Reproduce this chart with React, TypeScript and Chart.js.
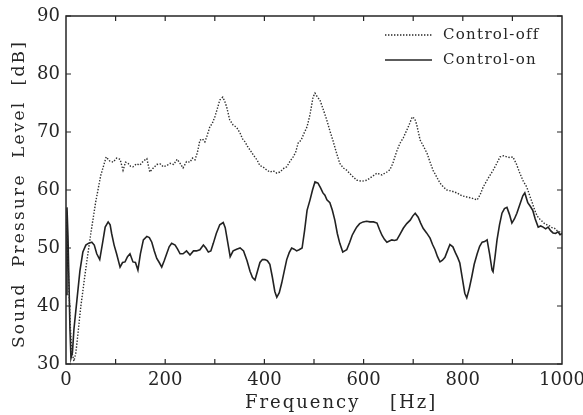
import { useEffect, useRef } from "react";
import { Chart, registerables } from "chart.js";

Chart.register(...registerables);

const offFreq = [0, 3, 6, 9, 12, 16, 20, 25, 30, 40, 50, 60, 70, 81, 88, 95, 102, 109, 115, 120, 125, 130, 135, 142, 149, 156, 163, 169, 176, 183, 190, 196, 203, 210, 217, 224, 230, 236, 243, 250, 255, 260, 265, 270, 275, 280, 285, 290, 295, 300, 305, 310, 316, 320, 324, 330, 337, 344, 351, 356, 361, 366, 371, 378, 385, 391, 397, 404, 411, 418, 425, 431, 435, 440, 445, 452, 458, 463, 468, 474, 480, 486, 492, 498, 502, 507, 512, 519, 526, 532, 538, 545, 552, 559, 566, 576, 586, 596, 607, 617, 627, 637, 647, 653, 659, 666, 673, 680, 687, 693, 698, 703, 707, 714, 721, 728, 734, 740, 747, 754, 761, 768, 778, 788, 798, 808, 818, 829, 835, 841, 851, 861, 868, 875, 882, 889, 895, 901, 908, 915, 922, 929, 935, 940, 945, 950, 955, 960, 965, 970, 975, 980, 985, 990, 995, 1000];
const offLevel = [55, 50, 43, 36, 32, 30.5, 32, 36, 40, 46.5, 52.5, 58, 62.5, 65.7, 65, 64.8, 65.5, 65.3, 63.4, 64.8, 64.6, 64.1, 64, 64.5, 64.3, 65, 65.4, 63.1, 63.8, 64.4, 64.5, 64, 64.2, 64.6, 64.4, 65.3, 64.6, 63.8, 64.9, 64.8, 65.5, 65.2, 66.5, 68.6, 68.8, 68.3, 69.5, 70.9, 71.5, 72.6, 74, 75.5, 76, 75.3, 74.3, 72.1, 71.2, 70.8, 69.8, 68.8, 68.3, 67.5, 66.9, 66, 65.2, 64.2, 64, 63.5, 63.1, 63.3, 62.9, 63.1, 63.4, 63.8, 64, 65, 65.7, 66.5, 68.1, 68.6, 69.8, 70.9, 73, 76, 76.7, 76, 75.5, 73.8, 72, 70.2, 68.6, 66.5, 64.6, 63.8, 63.4, 62.5, 61.7, 61.5, 61.7, 62.3, 62.9, 62.6, 63.1, 63.5, 64.6, 66.5, 68, 69, 70.3, 71.5, 72.6, 72.3, 71.3, 68.6, 67.5, 66.3, 64.8, 63.4, 62.3, 61.2, 60.5, 60, 59.8, 59.5, 59, 58.8, 58.6, 58.3, 59.2, 60.5, 62, 63.4, 64.5, 65.7, 65.9, 65.7, 65.6, 65.7, 64.5, 62.9, 61.5, 60.5, 59, 57.8, 56.5, 55.5, 55, 54.6, 54.2, 54, 53.8, 53.5, 53.4, 53, 52.8, 52.5];

const onFreq = [0, 2, 4, 6, 8, 10, 13, 16, 22, 28, 34, 40, 45, 52, 57, 62, 68, 74, 79, 85, 89, 92, 97, 102, 109, 114, 119, 124, 129, 135, 140, 145, 150, 156, 163, 168, 173, 178, 183, 188, 193, 198, 203, 208, 213, 220, 225, 230, 236, 243, 250, 257, 263, 270, 277, 282, 287, 292, 297, 303, 310, 317, 321, 324, 331, 337, 344, 351, 358, 365, 371, 376, 381, 386, 391, 396, 401, 406, 411, 416, 421, 425, 430, 435, 440, 445, 450, 455, 460, 465, 470, 476, 481, 486, 492, 497, 502, 508, 513, 518, 522, 526, 532, 537, 542, 547, 552, 558, 562, 566, 572, 577, 582, 586, 592, 599, 606, 613, 620, 627, 632, 637, 642, 647, 652, 657, 662, 667, 673, 680, 687, 694, 699, 704, 710, 715, 720, 727, 734, 739, 744, 749, 754, 759, 764, 769, 774, 780, 785, 790, 794, 799, 804, 808, 813, 818, 823, 829, 834, 839, 844, 849, 854, 859, 861, 865, 869, 874, 879, 884, 889, 894, 899, 904, 909, 915, 921, 925, 931, 936, 941, 946, 952, 957, 962, 967, 972, 977, 982, 987, 992, 996, 1000];
const onLevel = [42, 57, 52, 44, 36, 31, 32, 36, 41, 46, 49.3, 50.5, 50.8, 51, 50.5, 49, 48, 51, 53.6, 54.5, 54, 52.5, 50.5, 49, 46.7, 47.5, 47.6, 48.5, 49, 47.6, 47.5, 46.2, 49, 51.4, 52, 51.8, 51, 49.5, 48.2, 47.5, 46.7, 47.8, 49, 50.2, 50.8, 50.5, 49.8, 49, 49, 49.5, 48.8, 49.5, 49.5, 49.7, 50.5, 50, 49.3, 49.5, 50.8, 52.5, 54, 54.4, 53.5, 52, 48.5, 49.5, 49.8, 50, 49.5, 47.8, 46, 44.9, 44.5, 46, 47.5, 48, 48, 47.8, 47.2, 45, 42.5, 41.5, 42.3, 44, 46, 48, 49.2, 50, 49.8, 49.5, 49.7, 50, 53, 56.5, 58.3, 60, 61.4, 61.2, 60.4, 59.5, 59.1, 58.3, 57.8, 56.5, 54.8, 52.5, 50.8, 49.3, 49.5, 49.7, 51, 52.2, 53, 53.6, 54.2, 54.5, 54.6, 54.5, 54.5, 54.3, 53.2, 52.2, 51.5, 51, 51.2, 51.4, 51.3, 51.4, 52.3, 53.4, 54.2, 54.8, 55.5, 56, 55.3, 54.3, 53.4, 52.6, 51.7, 50.6, 49.7, 48.5, 47.6, 47.9, 48.4, 49.5, 50.6, 50.2, 49.2, 48.3, 47.4, 44.8, 42.2, 41.4, 43, 45, 47.2, 49, 50.3, 51, 51.1, 51.4, 49, 46.2, 45.9, 48.5, 51.4, 54, 56, 56.8, 57, 55.8, 54.3, 55, 56, 57.5, 59, 59.5, 57.8, 57.2, 56.5, 55, 53.6, 53.8, 53.6, 53.3, 53.6, 53, 52.6, 52.5, 52.8, 52.3, 52.5];

const xTickLabels = [0, 200, 400, 600, 800, 1000];
const xMinorTicks = [100, 200, 300, 400, 500, 600, 700, 800, 900];
const yTickValues = [30, 40, 50, 60, 70, 80, 90];
const seriesNames = ["Control-off", "Control-on"];
const xTitleWord = "Frequency";
const xTitleUnit = "[Hz]";
const yTitle = "Sound  Pressure  Level  [dB]";

const INK = "#262626";
const SERIF = "'DejaVu Serif', serif";

const framePlugin = {
  id: "frame",
  afterDraw(chart: any) {
    const { ctx, chartArea } = chart;
    const { left, right, top, bottom } = chartArea;
    const xs = chart.scales.x;
    const ys = chart.scales.y;
    ctx.save();
    ctx.strokeStyle = INK;
    ctx.lineWidth = 1.5;
    ctx.strokeRect(left, top, right - left, bottom - top);
    ctx.lineWidth = 1.2;
    ctx.beginPath();
    const tl = 5;
    for (const v of xMinorTicks) {
      const px = xs.getPixelForValue(v);
      ctx.moveTo(px, bottom);
      ctx.lineTo(px, bottom - tl);
      ctx.moveTo(px, top);
      ctx.lineTo(px, top + tl);
    }
    for (const v of yTickValues) {
      const py = ys.getPixelForValue(v);
      ctx.moveTo(left, py);
      ctx.lineTo(left + tl, py);
      ctx.moveTo(right, py);
      ctx.lineTo(right - tl, py);
    }
    ctx.stroke();

    // legend
    const lx0 = right - 177;
    const lx1 = right - 130;
    const ly0 = top + 19;
    const ly1 = top + 44;
    ctx.lineWidth = 1.3;
    ctx.setLineDash([1.4, 1.6]);
    ctx.beginPath();
    ctx.moveTo(lx0, ly0);
    ctx.lineTo(lx1, ly0);
    ctx.stroke();
    ctx.setLineDash([]);
    ctx.lineWidth = 1.6;
    ctx.beginPath();
    ctx.moveTo(lx0, ly1);
    ctx.lineTo(lx1, ly1);
    ctx.stroke();
    ctx.fillStyle = INK;
    ctx.font = "15px " + SERIF;
    (ctx as any).letterSpacing = "1.3px";
    ctx.textAlign = "left";
    ctx.textBaseline = "middle";
    ctx.fillText(seriesNames[0], right - 119, ly0);
    ctx.fillText(seriesNames[1], right - 119, ly1);

    // x title
    const cx = (left + right) / 2;
    ctx.font = "18px " + SERIF;
    (ctx as any).letterSpacing = "2px";
    ctx.textBaseline = "alphabetic";
    ctx.fillText(xTitleWord, cx - 69, bottom + 44);
    ctx.fillText(xTitleUnit, cx + 76, bottom + 44);

    // y title
    const cy = (top + bottom) / 2 + 4;
    ctx.translate(20, cy);
    ctx.rotate(-Math.PI / 2);
    ctx.font = "17px " + SERIF;
    (ctx as any).letterSpacing = "2.2px";
    ctx.textAlign = "center";
    ctx.textBaseline = "middle";
    ctx.fillText(yTitle, 0, 0);
    ctx.restore();
  },
};

export default function App() {
  const ref = useRef<HTMLCanvasElement | null>(null);
  useEffect(() => {
    if (!ref.current) return;
    const chart = new Chart(ref.current, {
      type: "line",
      data: {
        datasets: [
          {
            label: seriesNames[0],
            data: offFreq.map((f, i) => ({ x: f, y: offLevel[i] })),
            borderColor: "#2e2e2e",
            borderWidth: 1.4,
            borderDash: [1.4, 1.6],
            pointRadius: 0,
            tension: 0,
            fill: false,
          },
          {
            label: seriesNames[1],
            data: onFreq.map((f, i) => ({ x: f, y: onLevel[i] })),
            borderColor: "#222",
            borderWidth: 1.6,
            pointRadius: 0,
            tension: 0,
            fill: false,
          },
        ],
      },
      options: {
        animation: false,
        responsive: true,
        maintainAspectRatio: false,
        layout: { padding: { top: 16, right: 21, left: 0, bottom: 0 } },
        plugins: { legend: { display: false }, tooltip: { enabled: false } },
        scales: {
          x: {
            type: "linear",
            min: 0,
            max: 1000,
            grid: { display: false, drawTicks: false },
            border: { display: false },
            afterBuildTicks: (scale: any) => {
              scale.ticks = xTickLabels.map((v) => ({ value: v }));
            },
            afterFit: (scale: any) => {
              scale.height = 51;
              scale.paddingLeft = 0;
              scale.paddingRight = 0;
            },
            ticks: {
              color: INK,
              font: { family: SERIF, size: 18 },
              padding: 6,
              maxRotation: 0,
              autoSkip: false,
              callback: (v: any) => String(v),
            },
          },
          y: {
            min: 30,
            max: 90,
            grid: { display: false, drawTicks: false },
            border: { display: false },
            afterBuildTicks: (scale: any) => {
              scale.ticks = yTickValues.map((v) => ({ value: v }));
            },
            afterFit: (scale: any) => {
              scale.width = 66;
              scale.paddingTop = 0;
              scale.paddingBottom = 0;
            },
            ticks: {
              color: INK,
              font: { family: SERIF, size: 18 },
              padding: 6,
              callback: (v: any) => String(v),
            },
          },
        },
      },
      plugins: [framePlugin],
    } as any);
    return () => chart.destroy();
  }, []);
  return (
    <div style={{ position: "fixed", left: 0, top: 0, width: 583, height: 415, background: "#fff" }}>
      <canvas ref={ref} />
    </div>
  );
}
